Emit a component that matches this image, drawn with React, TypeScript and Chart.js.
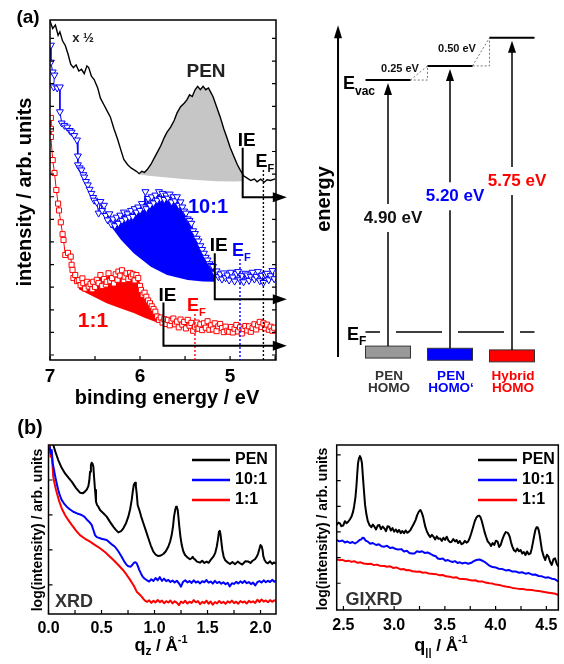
import React, { useEffect, useRef } from "react";
import { Chart, registerables } from "chart.js";

Chart.register(...registerables);

const FONT = "'Liberation Sans', Arial, Helvetica, sans-serif";
const W = 564;
const H = 664;

type Pt = [number, number];

// ---------------- (a) UPS spectra: binding energy (eV) vs intensity (arb.) ----------------
const UPS_PEN: Pt[] = [
  [7.0, 99.7], [6.97, 97.5], [6.94, 98.5], [6.91, 95.5], [6.89, 96.5], [6.86, 93.8], [6.83, 92.5], [6.8, 90],
  [6.77, 87], [6.74, 86], [6.71, 86.8], [6.68, 85], [6.65, 85.5], [6.62, 84.2], [6.59, 86.5], [6.57, 86],
  [6.54, 83.5], [6.51, 82.5], [6.47, 80], [6.44, 77], [6.4, 75], [6.36, 73], [6.33, 71.5], [6.29, 68],
  [6.25, 65], [6.21, 61.5], [6.18, 59], [6.14, 57.5], [6.1, 56.5], [6.07, 56], [6.04, 55.5], [6.01, 54.8],
  [5.98, 55.5], [5.95, 55.2], [5.92, 56], [5.88, 57.5], [5.84, 59.5], [5.81, 61], [5.77, 63], [5.73, 65.5],
  [5.7, 67], [5.66, 68.5], [5.62, 70.5], [5.59, 72.6], [5.55, 74.5], [5.51, 75.5], [5.48, 76.5], [5.45, 78],
  [5.42, 77.5], [5.39, 79.4], [5.36, 80.5], [5.33, 79.5], [5.3, 80.5], [5.27, 79.5], [5.24, 80], [5.21, 78.5],
  [5.19, 77.5], [5.15, 74.5], [5.11, 71.5], [5.07, 68], [5.03, 65], [5.0, 62.6], [4.96, 60], [4.92, 57.5],
  [4.89, 56], [4.85, 54.2], [4.81, 53.5], [4.77, 52.8], [4.73, 53.2], [4.7, 52.4], [4.66, 53.2], [4.62, 52.3],
  [4.59, 53], [4.55, 52.8], [4.5, 53.3],
];
const UPS_PEN_BG: Pt[] = [
  [6.02, 54.6], [5.88, 54.1], [5.7, 53.7], [5.52, 53.2], [5.33, 52.9], [5.15, 52.6], [4.96, 52.5], [4.85, 52.6],
];
const UPS_BLUE: Pt[] = [
  [6.99, 92.6], [6.99, 87.6], [6.97, 84.7], [6.95, 83.8], [6.96, 80.3], [6.92, 80], [6.89, 80.3], [6.89, 73],
  [6.87, 69.7], [6.84, 69], [6.81, 68.5], [6.78, 67.5], [6.76, 67], [6.73, 66], [6.7, 64.7], [6.69, 60],
  [6.69, 57.4], [6.67, 56.5], [6.65, 55.9], [6.63, 54.5], [6.62, 53.8], [6.6, 52.5], [6.58, 51.5], [6.56, 50.2],
  [6.54, 49], [6.52, 47.8], [6.51, 47], [6.48, 46.4], [6.46, 43.2], [6.44, 46.6], [6.42, 44], [6.4, 45.5],
  [6.38, 42.5], [6.36, 41.2], [6.34, 43], [6.32, 40], [6.3, 41.5], [6.28, 39.5], [6.26, 42], [6.24, 40.2],
  [6.22, 42.6], [6.2, 41], [6.18, 43.5], [6.16, 41.5], [6.14, 43], [6.12, 42], [6.1, 44], [6.08, 42.2],
  [6.06, 44.5], [6.04, 43.5], [6.02, 45], [6.0, 44], [5.98, 46], [5.96, 45], [5.94, 49.5], [5.93, 44.5],
  [5.91, 47.5], [5.89, 45.5], [5.87, 48], [5.85, 46.2], [5.83, 48.5], [5.81, 47], [5.79, 49.5], [5.77, 47.5],
  [5.75, 49], [5.73, 47.2], [5.71, 48.5], [5.69, 47.6], [5.67, 48.8], [5.65, 46.5], [5.63, 48], [5.61, 46.8],
  [5.59, 48], [5.57, 45.5], [5.55, 46.5], [5.53, 45], [5.51, 43.8], [5.49, 43.2], [5.47, 41.5], [5.45, 41],
  [5.43, 40.2], [5.41, 38], [5.39, 37.2], [5.37, 35.8], [5.35, 35], [5.33, 33.6], [5.31, 32.5], [5.29, 31.4],
  [5.27, 30.2], [5.25, 29.4], [5.23, 28.3], [5.21, 27.8], [5.19, 27.5], [5.17, 25.5], [5.15, 26.2], [5.13, 24.5],
  [5.11, 25.3], [5.09, 23.8], [5.07, 25.6], [5.05, 24.2], [5.03, 25], [5.01, 23.5], [4.99, 25.8], [4.97, 24.4],
  [4.95, 23.2], [4.93, 25.4], [4.91, 26], [4.89, 23.6], [4.87, 24.8], [4.85, 23], [4.83, 25.5], [4.81, 25],
  [4.79, 23.4], [4.77, 24.6], [4.75, 25.8], [4.73, 23.8], [4.71, 24.6], [4.69, 26], [4.67, 23.3], [4.65, 24.9],
  [4.63, 22.8], [4.61, 25.2], [4.59, 25.5], [4.57, 23.6], [4.55, 24.8], [4.53, 26.3], [4.51, 23.9],
];
const UPS_BLUE_BG: Pt[] = [
  [6.32, 39.2], [6.21, 35.3], [6.07, 31.4], [5.88, 27.4], [5.7, 25.0], [5.47, 23.5], [5.3, 23.1], [5.16, 23.0],
];
const UPS_RED: Pt[] = [
  [6.99, 71.2], [6.99, 68], [6.99, 65.6], [6.97, 58.8], [6.95, 55], [6.93, 50], [6.91, 46], [6.9, 44],
  [6.88, 40.5], [6.86, 37], [6.85, 35.3], [6.83, 30.9], [6.8, 31.5], [6.77, 30.4], [6.76, 28], [6.75, 26.5],
  [6.74, 24.1], [6.72, 25], [6.7, 23.2], [6.68, 23.5], [6.66, 22], [6.64, 24], [6.63, 22.6], [6.61, 21],
  [6.59, 23], [6.57, 21.6], [6.55, 22.4], [6.53, 20.8], [6.52, 23], [6.5, 21.5], [6.48, 23.6], [6.46, 22.6],
  [6.44, 25], [6.42, 21.8], [6.4, 23.8], [6.38, 22.2], [6.37, 23], [6.35, 25.5], [6.33, 23.2], [6.31, 24.1],
  [6.29, 22.5], [6.27, 25.2], [6.25, 23.6], [6.24, 26], [6.22, 24.8], [6.2, 26.4], [6.18, 23.5], [6.17, 24.5],
  [6.15, 25.5], [6.13, 23.8], [6.11, 25.6], [6.1, 24.5], [6.08, 25.2], [6.06, 23.4], [6.04, 25], [6.02, 24.1],
  [6.0, 21.8], [5.99, 20.6], [5.97, 19.2], [5.95, 19.8], [5.93, 18.6], [5.91, 17.5], [5.89, 16.7], [5.87, 15.8],
  [5.85, 15], [5.83, 14.2], [5.81, 12.8], [5.79, 11.8], [5.77, 12.5], [5.75, 11], [5.73, 12], [5.71, 10.6],
  [5.69, 11.8], [5.67, 10.2], [5.65, 11.5], [5.63, 12.2], [5.61, 10.5], [5.59, 11.3], [5.57, 9.6], [5.55, 11.9],
  [5.53, 10.4], [5.51, 11.2], [5.49, 9.3], [5.47, 11.8], [5.45, 10.1], [5.43, 10.9], [5.41, 8.6], [5.39, 9.8],
  [5.37, 11], [5.35, 9.2], [5.33, 10.5], [5.31, 8.8], [5.29, 10.8], [5.27, 9.5], [5.25, 11.4], [5.23, 8.9],
  [5.21, 10.2], [5.19, 9], [5.17, 10.8], [5.15, 8.5], [5.13, 9.9], [5.11, 10.6], [5.09, 9.4], [5.07, 8.2],
  [5.05, 9.8], [5.03, 8.6], [5.01, 8.3], [4.99, 9.7], [4.97, 8.1], [4.95, 9.2], [4.93, 10.3], [4.91, 8.4],
  [4.89, 9.6], [4.87, 7.8], [4.85, 9.1], [4.83, 10], [4.81, 8.7], [4.79, 9.9], [4.77, 8.3], [4.75, 9.4],
  [4.73, 10.5], [4.71, 9], [4.69, 10.2], [4.67, 11.2], [4.65, 9.7], [4.63, 10.8], [4.61, 9.3], [4.59, 10.4],
  [4.57, 8.9], [4.55, 9.8], [4.53, 8.6], [4.51, 9.5],
];
const UPS_RED_BG: Pt[] = [
  [6.68, 20.8], [6.52, 18.7], [6.37, 16.7], [6.22, 15.2], [6.07, 13.8], [5.95, 12.4], [5.84, 11.3], [5.8, 11.0],
];
const UPS_X_LABELS = [7, 6, 5];
const UPS_X_TICKS = [7, 6.5, 6, 5.5, 5, 4.5];
// ionisation-energy onsets and Fermi edges marked in the spectra
const UPS_IE_E = [4.86, 5.17, 5.74];
const UPS_IE_TOP = [62.4, 31.4, 16.9];
const UPS_IE_ARROW = [47.9, 17.9, 4.2];
const UPS_ARROW_TIP_E = 4.37;
const UPS_EF_E = [4.63, 4.89, 5.39];
const UPS_EF_TOP = [55.9, 29.7, 13.5];
const UPS_COLORS = ["#000000", "#0000ff", "#ff0000"];

// ---------------- (a) energy diagram ----------------
const DIAG_COLS = [1, 2, 3];
const DIAG_IE = [4.9, 5.2, 5.75];
const DIAG_HOMO = [-0.26, -0.3, -0.33];
const DIAG_IE_LABELS = ["4.90 eV", "5.20 eV", "5.75 eV"];
const DIAG_LABEL_EV = [2.1, 2.5, 2.78];
const DIAG_TEXT_COLORS = ["#111111", "#0000ff", "#ff0000"];
const DIAG_BOX_COLORS = ["#999999", "#0000ff", "#ff0000"];
const DIAG_HOMO_LABELS = [["PEN", "HOMO"], ["PEN", "HOMO‘"], ["Hybrid", "HOMO"]];
const DIAG_HOMO_LABEL_COLORS = ["#333333", "#0000ff", "#ff0000"];
const DIAG_STEP_LABELS = ["0.25 eV", "0.50 eV"];

// ---------------- (b) XRD: q_z (1/Å) vs log intensity (arb.) ----------------
const XRD_PEN: Pt[] = [
  [0.045, 100], [0.07, 95], [0.092, 91.1], [0.12, 87], [0.156, 83.2], [0.19, 80.5], [0.219, 78.3], [0.26, 74.5],
  [0.297, 71.8], [0.325, 71.5], [0.344, 72.4], [0.362, 73.8], [0.376, 75.7], [0.385, 79], [0.392, 84.2], [0.4, 88],
  [0.407, 89.5], [0.415, 89], [0.423, 87.2], [0.431, 80], [0.439, 73.4], [0.448, 66.5], [0.458, 64.5], [0.47, 63.5],
  [0.486, 61.5], [0.52, 59.5], [0.549, 57.6], [0.58, 54.5], [0.611, 51.7], [0.635, 49.8], [0.659, 48.3], [0.685, 49],
  [0.706, 50.7], [0.73, 53.5], [0.753, 57.6], [0.77, 62], [0.785, 67.5], [0.795, 72.5], [0.805, 76.5], [0.816, 77.7],
  [0.824, 75.5], [0.832, 71.4], [0.841, 64.5], [0.857, 61.5], [0.875, 57.5], [0.895, 53.7], [0.92, 49], [0.942, 44.8],
  [0.965, 40.5], [0.989, 36.9], [1.01, 35.2], [1.036, 34.3], [1.06, 34.6], [1.083, 35.5], [1.105, 37], [1.13, 39.8],
  [1.148, 43], [1.162, 46.7], [1.175, 52], [1.184, 57.6], [1.195, 61.5], [1.203, 63.5], [1.211, 63.2], [1.219, 61.5],
  [1.227, 56.5], [1.234, 51.7], [1.245, 45.5], [1.257, 40.8], [1.272, 37], [1.288, 34.9], [1.31, 33.5], [1.335, 32.4],
  [1.35, 33], [1.36, 33.9], [1.37, 32.8], [1.38, 32.4], [1.4, 31], [1.429, 30.4], [1.45, 31.5], [1.47, 30.2],
  [1.492, 31], [1.51, 30.3], [1.53, 32], [1.555, 33.9], [1.572, 36], [1.587, 39.8], [1.598, 44], [1.608, 48.7],
  [1.616, 49.2], [1.623, 47], [1.632, 42], [1.64, 37.9], [1.652, 34], [1.665, 32], [1.69, 30.5], [1.712, 29.6],
  [1.735, 30.8], [1.76, 29.5], [1.785, 31], [1.807, 30], [1.83, 29.3], [1.855, 31.2], [1.885, 31], [1.905, 30.2],
  [1.925, 31.5], [1.948, 32.4], [1.965, 34], [1.978, 35.9], [1.989, 38.5], [2.0, 40.8], [2.011, 40], [2.019, 37.9],
  [2.027, 34], [2.038, 32], [2.052, 30.6], [2.07, 30], [2.09, 31.2], [2.11, 29.6], [2.125, 30.5], [2.145, 29.8],
];
const XRD_BLUE: Pt[] = [
  [0.012, 99], [0.02, 95], [0.03, 97], [0.04, 89], [0.05, 86], [0.061, 82.2], [0.075, 78], [0.092, 73.4],
  [0.108, 70], [0.124, 67.5], [0.145, 65.5], [0.172, 63.5], [0.2, 62], [0.234, 60.5], [0.27, 59.5], [0.313, 58.6],
  [0.34, 57.5], [0.366, 55.6], [0.385, 54.5], [0.407, 52.7], [0.422, 50], [0.439, 46.7], [0.455, 45.5], [0.47, 45.2],
  [0.5, 44.5], [0.549, 43.8], [0.59, 41.5], [0.627, 39.8], [0.66, 37], [0.69, 33.9], [0.715, 31], [0.738, 29],
  [0.755, 28.2], [0.775, 28], [0.79, 29], [0.807, 30.4], [0.82, 30.6], [0.832, 30], [0.845, 28], [0.857, 26],
  [0.872, 24], [0.888, 22.1], [0.905, 21], [0.926, 20.1], [0.95, 19.2], [0.97, 20.6], [0.99, 19.5], [1.01, 21.3],
  [1.03, 20], [1.05, 21.8], [1.07, 19.6], [1.09, 20.9], [1.11, 19.4], [1.13, 20.2], [1.15, 18.9], [1.17, 19.8],
  [1.19, 18.6], [1.21, 19.7], [1.23, 18.2], [1.25, 16.2], [1.27, 19.1], [1.29, 20], [1.31, 18.7], [1.33, 19.5],
  [1.35, 18.4], [1.37, 19.9], [1.39, 18.6], [1.41, 19.3], [1.43, 18.1], [1.45, 19.4], [1.47, 18.8], [1.49, 20.1],
  [1.51, 18.5], [1.53, 19.2], [1.55, 18], [1.57, 19.6], [1.59, 18.3], [1.61, 19.1], [1.63, 17.9], [1.65, 18.8],
  [1.67, 17.6], [1.69, 18.5], [1.71, 16.3], [1.73, 18.2], [1.75, 17.8], [1.77, 19], [1.79, 18.1], [1.81, 19.3],
  [1.83, 18.4], [1.85, 19.6], [1.87, 18.2], [1.89, 18.9], [1.91, 17.7], [1.93, 18.6], [1.95, 16.9], [1.97, 18.8],
  [1.99, 19.5], [2.01, 18.6], [2.03, 19.9], [2.05, 18.8], [2.07, 19.7], [2.09, 18.9], [2.11, 20.2], [2.13, 19.1],
  [2.145, 19.8],
];
const XRD_RED: Pt[] = [
  [0.012, 100], [0.02, 93], [0.03, 96], [0.045, 81.2], [0.058, 77], [0.071, 73.4], [0.086, 70], [0.102, 66.5],
  [0.128, 62], [0.156, 58.6], [0.187, 55.5], [0.219, 52.7], [0.258, 49.5], [0.297, 46.7], [0.345, 44.5], [0.392, 42.8],
  [0.44, 40.8], [0.486, 38.9], [0.535, 36.5], [0.58, 33.9], [0.62, 31.5], [0.659, 29], [0.7, 26.2], [0.738, 23.1],
  [0.77, 20.2], [0.8, 17.2], [0.815, 15.5], [0.832, 13.2], [0.855, 11.8], [0.879, 10.3], [0.895, 9], [0.91, 7.9],
  [0.93, 7.2], [0.95, 8.1], [0.97, 6.6], [0.99, 7.8], [1.01, 6.9], [1.03, 8.3], [1.05, 7], [1.07, 7.9],
  [1.09, 6.4], [1.11, 7.6], [1.13, 6.8], [1.15, 8], [1.17, 6.3], [1.19, 7.5], [1.21, 6.7], [1.23, 5.2],
  [1.25, 7.4], [1.27, 6.5], [1.29, 7.8], [1.31, 6.2], [1.33, 7.3], [1.35, 6.6], [1.37, 8.2], [1.39, 6.9],
  [1.41, 7.6], [1.43, 5.8], [1.45, 7.2], [1.47, 6.4], [1.49, 7.9], [1.51, 6.1], [1.53, 7.4], [1.55, 5.5],
  [1.57, 7.1], [1.59, 6.3], [1.61, 7.7], [1.63, 6.5], [1.65, 7.2], [1.67, 6], [1.69, 7.5], [1.71, 6.7],
  [1.73, 7.9], [1.75, 6.4], [1.77, 7.3], [1.79, 6.1], [1.81, 7.6], [1.83, 6.8], [1.85, 7.4], [1.87, 6.2],
  [1.89, 7.8], [1.91, 6.9], [1.93, 7.5], [1.95, 6.6], [1.97, 8.4], [1.99, 7.1], [2.01, 8.6], [2.03, 7.3],
  [2.05, 8], [2.07, 7], [2.09, 8.2], [2.11, 7.2], [2.13, 8.1], [2.145, 7.6],
];
const XRD_X_LABELS = [0, 0.5, 1, 1.5, 2];
const XRD_X_TICKS = [0, 0.25, 0.5, 0.75, 1, 1.25, 1.5, 1.75, 2];
const XRD_Y_TICKS = [17.2, 37.9, 58.6, 79.3];

// ---------------- (b) GIXRD: q_|| (1/Å) vs log intensity (arb.) ----------------
const GIX_PEN: Pt[] = [
  [2.434, 51.5], [2.45, 53], [2.466, 52.5], [2.48, 50.8], [2.498, 51.2], [2.515, 53.8], [2.53, 52.6], [2.547, 53.5],
  [2.565, 55], [2.58, 56.6], [2.595, 59.5], [2.605, 62.6], [2.618, 68], [2.628, 74.7], [2.637, 83], [2.644, 88.9],
  [2.655, 92.5], [2.663, 93.3], [2.673, 92], [2.683, 88.9], [2.692, 81], [2.702, 72.7], [2.713, 64], [2.725, 58.6],
  [2.74, 54], [2.757, 51.5], [2.775, 50.2], [2.79, 51.8], [2.806, 50.5], [2.822, 48.8], [2.838, 51.2], [2.854, 51.5],
  [2.87, 49], [2.887, 50.6], [2.903, 49.5], [2.92, 47.8], [2.935, 50.8], [2.951, 50.5], [2.968, 48.2], [2.984, 49.6],
  [3.0, 47.5], [3.017, 48.8], [3.033, 47.2], [3.049, 48.5], [3.065, 46.6], [3.081, 47.9], [3.097, 46.5], [3.113, 48.2],
  [3.13, 46.8], [3.146, 47.5], [3.162, 48.6], [3.178, 50.5], [3.195, 52.4], [3.211, 54.5], [3.227, 57.5], [3.243, 59.6],
  [3.259, 60.6], [3.272, 59], [3.285, 56.6], [3.296, 53.5], [3.307, 50.5], [3.323, 47.6], [3.34, 45.5], [3.356, 44.2],
  [3.372, 45.6], [3.388, 44.4], [3.405, 42.8], [3.42, 44.6], [3.437, 43.1], [3.453, 43.4], [3.47, 41.9], [3.486, 43.8],
  [3.502, 42.5], [3.518, 44.4], [3.534, 42.2], [3.55, 41.1], [3.566, 41.4], [3.583, 43], [3.6, 41.5], [3.615, 42.4],
  [3.63, 40.6], [3.647, 41.8], [3.664, 39.9], [3.68, 40.4], [3.697, 41.9], [3.713, 40.8], [3.728, 41.4], [3.744, 43.5],
  [3.76, 46.5], [3.777, 50], [3.793, 53.5], [3.81, 56], [3.825, 57], [3.838, 57.2], [3.848, 56.6], [3.861, 54.5],
  [3.874, 51.5], [3.89, 47.5], [3.906, 44.4], [3.922, 41.6], [3.939, 40.4], [3.955, 38.8], [3.971, 40.6], [3.987, 39.4],
  [4.003, 42], [4.02, 41.4], [4.035, 38.2], [4.05, 39.4], [4.065, 42.5], [4.084, 45.5], [4.1, 47.2], [4.117, 46.9],
  [4.128, 46], [4.139, 44.4], [4.152, 41], [4.165, 38.4], [4.181, 36.2], [4.197, 35.4], [4.213, 37.2], [4.23, 35.6],
  [4.246, 36.4], [4.262, 34.2], [4.278, 35.1], [4.294, 33.3], [4.31, 35.5], [4.326, 33.8], [4.343, 34.3], [4.355, 37],
  [4.366, 40.4], [4.38, 45], [4.392, 48.5], [4.403, 50.1], [4.414, 50.1], [4.424, 48.5], [4.434, 45.5], [4.445, 40.8],
  [4.456, 36.4], [4.472, 32.8], [4.489, 30.3], [4.505, 33.5], [4.521, 32.3], [4.537, 29.2], [4.553, 27.3], [4.57, 30.8],
  [4.586, 31.3], [4.602, 28], [4.618, 26.3],
];
const GIX_BLUE: Pt[] = [
  [2.434, 42.4], [2.46, 41.6], [2.49, 42.1], [2.515, 40.9], [2.54, 41.5], [2.565, 40.6], [2.59, 41.2], [2.615, 40.3],
  [2.64, 41.4], [2.66, 42.4], [2.677, 42.8], [2.69, 43.8], [2.702, 43.6], [2.72, 42], [2.741, 41.4], [2.765, 40.2],
  [2.79, 40.6], [2.822, 39.4], [2.85, 39.8], [2.875, 38.6], [2.903, 38.4], [2.93, 38.9], [2.96, 37.6], [2.985, 37.9],
  [3.01, 37.1], [3.04, 36.6], [3.07, 36.9], [3.097, 35.4], [3.125, 35.9], [3.15, 34.6], [3.175, 34.2], [3.2, 34.3],
  [3.225, 35.6], [3.25, 35.2], [3.275, 35.6], [3.3, 34.6], [3.33, 34.9], [3.356, 34.1], [3.38, 33.2], [3.41, 32.6],
  [3.43, 31.2], [3.453, 30.9], [3.48, 31.2], [3.505, 29.9], [3.53, 30.3], [3.55, 29.6], [3.575, 29.1], [3.6, 29.6],
  [3.625, 28.5], [3.647, 28.9], [3.67, 28.2], [3.7, 28.7], [3.73, 28], [3.76, 28.6], [3.785, 29.6], [3.81, 30.3],
  [3.842, 30.6], [3.865, 30], [3.89, 29.2], [3.915, 28], [3.94, 26.8], [3.971, 26], [4.0, 25.8], [4.03, 25],
  [4.068, 24.8], [4.1, 24], [4.13, 24.3], [4.165, 23.3], [4.197, 23.4], [4.23, 22.6], [4.26, 22.9], [4.295, 22],
  [4.327, 22.4], [4.36, 21.4], [4.39, 21.5], [4.425, 20.6], [4.456, 20.4], [4.49, 19.6], [4.52, 19.8], [4.553, 19],
  [4.585, 18.6], [4.618, 17.4],
];
const GIX_RED: Pt[] = [
  [2.434, 30.7], [2.46, 30.2], [2.49, 30.4], [2.52, 29.6], [2.55, 29.9], [2.58, 29.2], [2.61, 29.5], [2.64, 28.6],
  [2.67, 28.9], [2.7, 28.2], [2.741, 27.9], [2.77, 28.1], [2.8, 27.2], [2.83, 27.5], [2.86, 26.8], [2.903, 26.7],
  [2.93, 26.2], [2.96, 26.5], [2.99, 25.5], [3.02, 25.8], [3.065, 24.6], [3.09, 24.9], [3.12, 24.1], [3.15, 24.2],
  [3.18, 23.5], [3.226, 23.2], [3.25, 23.4], [3.28, 22.6], [3.31, 22.8], [3.34, 22.1], [3.388, 21.8], [3.42, 21.6],
  [3.45, 21], [3.48, 21.2], [3.51, 20.4], [3.55, 20.2], [3.58, 19.6], [3.61, 19.9], [3.64, 19], [3.68, 18.8],
  [3.712, 18.6], [3.74, 18.2], [3.77, 17.9], [3.8, 18], [3.83, 17.3], [3.874, 17.2], [3.9, 16.6], [3.939, 16.2],
  [3.97, 16], [4.0, 15.4], [4.036, 15.2], [4.07, 14.6], [4.1, 14.2], [4.13, 14], [4.165, 13.4], [4.197, 13.1],
  [4.23, 12.8], [4.27, 12.7], [4.31, 12.2], [4.359, 12.1], [4.4, 11.6], [4.44, 11.3], [4.48, 10.9], [4.521, 10.5],
  [4.56, 10.1], [4.59, 9.8], [4.618, 9.1],
];
const GIX_X_LABELS = [2.5, 3, 3.5, 4, 4.5];
const GIX_X_TICKS = [2.5, 2.75, 3, 3.25, 3.5, 3.75, 4, 4.25, 4.5];
const GIX_Y_TICKS = [16.2, 31.7, 47.3, 62.8, 78.4, 94.0];

const LEGEND_NAMES = ["PEN", "10:1", "1:1"];

// ---------------- helpers ----------------
const xy = (pts: Pt[]) => pts.map(([x, y]) => ({ x, y }));
const between = (pts: Pt[], lo: number, hi: number) =>
  xy(pts.filter(([x]) => x >= lo - 1e-9 && x <= hi + 1e-9));
const spanOf = (pts: Pt[]) => {
  const xs = pts.map((p) => p[0]);
  return [Math.min(...xs), Math.max(...xs)];
};

function txt(ctx: any, s: string, x: number, y: number, size: number, color: string, align = "center", base = "middle") {
  ctx.font = `bold ${size}px ${FONT}`;
  ctx.fillStyle = color;
  ctx.textAlign = align;
  ctx.textBaseline = base;
  ctx.fillText(s, x, y);
}
function vtxt(ctx: any, s: string, x: number, y: number, size: number, color: string) {
  ctx.save();
  ctx.translate(x, y);
  ctx.rotate(-Math.PI / 2);
  txt(ctx, s, 0, 0, size, color);
  ctx.restore();
}
type Part = { t: string; s: number; dy?: number };
function rich(ctx: any, parts: Part[], x: number, base: number, color: string, centered: boolean) {
  const widths = parts.map((p) => {
    ctx.font = `bold ${p.s}px ${FONT}`;
    return ctx.measureText(p.t).width;
  });
  const total = widths.reduce((a, b) => a + b, 0);
  let cx = centered ? x - total / 2 : x;
  ctx.fillStyle = color;
  ctx.textAlign = "left";
  ctx.textBaseline = "alphabetic";
  parts.forEach((p, i) => {
    ctx.font = `bold ${p.s}px ${FONT}`;
    ctx.fillText(p.t, cx, base + (p.dy || 0));
    cx += widths[i];
  });
}

function framePlugin(xTicks: number[], yTicks: number[], both: boolean) {
  return {
    id: "frame",
    afterDatasetsDraw(chart: any) {
      const { ctx, chartArea: a, scales } = chart;
      ctx.save();
      ctx.strokeStyle = "#000";
      ctx.lineWidth = 1.5;
      ctx.setLineDash([]);
      ctx.strokeRect(a.left, a.top, a.right - a.left, a.bottom - a.top);
      ctx.lineWidth = 1.2;
      ctx.beginPath();
      for (const v of xTicks) {
        const p = scales.x.getPixelForValue(v);
        ctx.moveTo(p, a.bottom);
        ctx.lineTo(p, a.bottom - 4);
      }
      for (const v of yTicks) {
        const p = scales.y.getPixelForValue(v);
        ctx.moveTo(a.left, p);
        ctx.lineTo(a.left + 4, p);
        if (both) {
          ctx.moveTo(a.right, p);
          ctx.lineTo(a.right - 4, p);
        }
      }
      ctx.stroke();
      ctx.restore();
    },
  };
}

function xAxis(min: number, max: number, labels: number[], size: number, pad: number, fmt: (v: number) => string, reverse = false) {
  return {
    type: "linear",
    min,
    max,
    reverse,
    position: "bottom",
    afterBuildTicks: (s: any) => {
      s.ticks = labels.map((v) => ({ value: v }));
    },
    afterFit: (s: any) => {
      s.height = 30;
    },
    grid: { display: false, drawTicks: false, tickLength: 0 },
    border: { display: false },
    ticks: {
      color: "#000",
      font: { family: FONT, size, weight: "bold" },
      padding: pad,
      autoSkip: false,
      maxRotation: 0,
      minRotation: 0,
      callback: (v: any) => fmt(Number(v)),
    },
  };
}

const baseOptions = (padding: any, scales: any) => ({
  responsive: false,
  maintainAspectRatio: false,
  animation: false,
  devicePixelRatio: 1,
  events: [],
  layout: { padding },
  plugins: { legend: { display: false }, tooltip: { enabled: false } },
  scales,
});

// ---------------- (a) UPS chart ----------------
function upsConfig() {
  const [pLo, pHi] = spanOf(UPS_PEN_BG);
  const [bLo, bHi] = spanOf(UPS_BLUE_BG);
  const [rLo, rHi] = spanOf(UPS_RED_BG);
  const hidden = { showLine: true, borderColor: "rgba(0,0,0,0)", borderWidth: 1, pointRadius: 0, fill: false };
  const decor = {
    id: "upsDecor",
    afterDraw(chart: any) {
      const { ctx, chartArea: a, scales } = chart;
      const x = scales.x;
      const y = scales.y;
      ctx.save();
      UPS_IE_E.forEach((e, i) => {
        const px = x.getPixelForValue(e);
        const top = y.getPixelForValue(UPS_IE_TOP[i]);
        const ay = y.getPixelForValue(UPS_IE_ARROW[i]);
        const tip = x.getPixelForValue(UPS_ARROW_TIP_E);
        // Fermi edge (dotted)
        const fx = x.getPixelForValue(UPS_EF_E[i]);
        const ft = y.getPixelForValue(UPS_EF_TOP[i]);
        ctx.strokeStyle = UPS_COLORS[i];
        ctx.lineWidth = 1.4;
        ctx.setLineDash([2, 2]);
        ctx.beginPath();
        ctx.moveTo(fx, ft);
        ctx.lineTo(fx, a.bottom);
        ctx.stroke();
        ctx.setLineDash([]);
        // IE onset + arrow
        ctx.strokeStyle = "#000";
        ctx.lineWidth = 2;
        ctx.beginPath();
        ctx.moveTo(px, top);
        ctx.lineTo(px, ay);
        ctx.lineTo(tip - 10, ay);
        ctx.stroke();
        ctx.fillStyle = "#000";
        ctx.beginPath();
        ctx.moveTo(tip, ay);
        ctx.lineTo(tip - 14, ay - 5);
        ctx.lineTo(tip - 14, ay + 5);
        ctx.closePath();
        ctx.fill();
        txt(ctx, "IE", px - 5, top - 2, 19, "#000", "left", "alphabetic");
        rich(ctx, [{ t: "E", s: 18 }, { t: "F", s: 11, dy: 5 }], fx - 8, ft - 3, UPS_COLORS[i], false);
      });
      txt(ctx, "PEN", 206, 72, 19, "#222");
      txt(ctx, "x ½", 83, 38, 13, "#222");
      txt(ctx, "10:1", 208, 207, 20, "#0000ff");
      txt(ctx, "1:1", 93, 321, 21, "#ff0000");
      txt(ctx, "(a)", 28, 18, 19, "#000");
      vtxt(ctx, "intensity / arb. units", 25, 192, 20, "#000");
      txt(ctx, "binding energy / eV", 167, 404, 20, "#000", "center", "alphabetic");
      ctx.restore();
    },
  };
  return {
    type: "scatter",
    data: {
      datasets: [
        { data: xy(UPS_PEN), showLine: true, borderColor: "#000", borderWidth: 1.4, pointRadius: 0, fill: false },
        {
          data: xy(UPS_BLUE), showLine: true, borderColor: "#0000ff", borderWidth: 1, fill: false,
          pointStyle: "triangle", pointRotation: 180, pointRadius: 4, pointBorderWidth: 1,
          pointBorderColor: "#0000ff", pointBackgroundColor: "#ffffff",
        },
        {
          data: xy(UPS_RED), showLine: true, borderColor: "#ff0000", borderWidth: 1, fill: false,
          pointStyle: "rect", pointRadius: 3.6, pointBorderWidth: 1,
          pointBorderColor: "#ff0000", pointBackgroundColor: "#ffffff",
        },
        { ...hidden, data: between(UPS_PEN, pLo, pHi), fill: "+1", backgroundColor: "#c6c6c6" },
        { ...hidden, data: xy(UPS_PEN_BG) },
        { ...hidden, data: between(UPS_BLUE, bLo, bHi), fill: "+1", backgroundColor: "#0000ff" },
        { ...hidden, data: xy(UPS_BLUE_BG) },
        { ...hidden, data: between(UPS_RED, rLo, rHi), fill: "+1", backgroundColor: "#ff0000" },
        { ...hidden, data: xy(UPS_RED_BG) },
      ],
    },
    options: baseOptions(
      { left: 50, right: W - 276, top: 20, bottom: H - 360 - 30 },
      {
        x: xAxis(4.49, 7, UPS_X_LABELS, 19, 5, (v) => String(v), true),
        y: { type: "linear", min: 0, max: 100, display: false },
      }
    ),
    plugins: [
      framePlugin(UPS_X_TICKS, Array.from({ length: 15 }, (_, k) => 1.47 + 6.65 * k), true),
      decor,
    ],
  };
}

// ---------------- (a) energy-level diagram ----------------
function diagramConfig() {
  const HALF = 0.363;
  const evac = DIAG_HOMO.map((h, i) => h + DIAG_IE[i]);
  const levels = DIAG_COLS.map((c, i) => ({
    data: [{ x: c - HALF, y: evac[i] }, { x: c + HALF, y: evac[i] }],
    showLine: true, borderColor: "#000", borderWidth: 2, pointRadius: 0, clip: false,
  }));
  const steps = DIAG_COLS.slice(0, -1).map((c, i) => ({
    data: [
      { x: c + HALF, y: evac[i] },
      { x: DIAG_COLS[i + 1] - HALF, y: evac[i + 1] },
      { x: DIAG_COLS[i + 1] - HALF, y: evac[i] },
      { x: c + HALF, y: evac[i] },
    ],
    showLine: true, borderColor: "#777", borderWidth: 1, borderDash: [2, 2], pointRadius: 0, clip: false,
  }));
  const decor = {
    id: "diagDecor",
    afterDraw(chart: any) {
      const { ctx, scales } = chart;
      const X = (u: number) => scales.x.getPixelForValue(u);
      const Y = (v: number) => scales.y.getPixelForValue(v);
      ctx.save();
      // energy axis
      const ax = X(0.194);
      ctx.strokeStyle = "#000";
      ctx.fillStyle = "#000";
      ctx.lineWidth = 2;
      ctx.beginPath();
      ctx.moveTo(ax, Y(-0.46));
      ctx.lineTo(ax, Y(5.65) + 10);
      ctx.stroke();
      ctx.beginPath();
      ctx.moveTo(ax, Y(5.65));
      ctx.lineTo(ax - 4, Y(5.65) + 13);
      ctx.lineTo(ax + 4, Y(5.65) + 13);
      ctx.closePath();
      ctx.fill();
      vtxt(ctx, "energy", 324, 199, 20, "#000");
      // Fermi level (dashed, broken at arrows)
      ctx.lineWidth = 1.6;
      ctx.strokeStyle = "#000";
      const efy = Y(0);
      let start = X(DIAG_COLS[0] - HALF);
      ctx.beginPath();
      DIAG_COLS.forEach((c) => {
        ctx.moveTo(start, efy);
        ctx.lineTo(X(c) - 8, efy);
        start = X(c) + 8;
      });
      ctx.moveTo(start, efy);
      ctx.lineTo(X(DIAG_COLS[DIAG_COLS.length - 1] + HALF), efy);
      ctx.stroke();
      rich(ctx, [{ t: "E", s: 18 }, { t: "F", s: 12, dy: 5 }], 347, 340, "#000", false);
      rich(ctx, [{ t: "E", s: 18 }, { t: "vac", s: 12, dy: 6 }], 343, 89, "#000", false);
      // HOMO boxes, IE arrows, labels
      DIAG_COLS.forEach((c, i) => {
        const l = X(c - HALF);
        const r = X(c + HALF);
        const t = Y(DIAG_HOMO[i]);
        const b = Y(DIAG_HOMO[i] - 0.22);
        ctx.fillStyle = DIAG_BOX_COLORS[i];
        ctx.fillRect(l, t, r - l, b - t);
        ctx.strokeStyle = "#333";
        ctx.lineWidth = 1;
        ctx.strokeRect(l, t, r - l, b - t);
        const px = X(c);
        const tipY = Y(evac[i]) + 3;
        const ly = Y(DIAG_LABEL_EV[i]);
        ctx.strokeStyle = "#000";
        ctx.lineWidth = 1.5;
        ctx.beginPath();
        ctx.moveTo(px, t);
        ctx.lineTo(px, ly + 14);
        ctx.moveTo(px, ly - 14);
        ctx.lineTo(px, tipY + 10);
        ctx.stroke();
        ctx.fillStyle = "#000";
        ctx.beginPath();
        ctx.moveTo(px, tipY);
        ctx.lineTo(px - 4, tipY + 12);
        ctx.lineTo(px + 4, tipY + 12);
        ctx.closePath();
        ctx.fill();
        txt(ctx, DIAG_IE_LABELS[i], px + 5, ly, 17, DIAG_TEXT_COLORS[i]);
        txt(ctx, DIAG_HOMO_LABELS[i][0], px + 1, 380, 13.5, DIAG_HOMO_LABEL_COLORS[i], "center", "alphabetic");
        txt(ctx, DIAG_HOMO_LABELS[i][1], px + 1, 392, 13.5, DIAG_HOMO_LABEL_COLORS[i], "center", "alphabetic");
      });
      txt(ctx, DIAG_STEP_LABELS[0], 400, 69, 11, "#111");
      txt(ctx, DIAG_STEP_LABELS[1], 457, 49, 11, "#111");
      ctx.restore();
    },
  };
  return {
    type: "scatter",
    data: { datasets: [...levels, ...steps] },
    options: baseOptions(
      { left: 326, right: W - 543, top: 20, bottom: H - 370 },
      {
        x: { type: "linear", min: 0, max: 3.5, display: false },
        y: { type: "linear", min: -0.7, max: 5.746, display: false },
      }
    ),
    plugins: [decor],
  };
}

// ---------------- (b) XRD / GIXRD ----------------
function diffConfig(kind: "xrd" | "gix") {
  const isX = kind === "xrd";
  const series = isX ? [XRD_PEN, XRD_BLUE, XRD_RED] : [GIX_PEN, GIX_BLUE, GIX_RED];
  const colors = ["#000000", "#0000ff", "#ff0000"];
  const decor = {
    id: "diffDecor",
    afterDraw(chart: any) {
      const { ctx } = chart;
      ctx.save();
      const lx0 = isX ? 192 : 478;
      const lx1 = isX ? 230 : 517;
      LEGEND_NAMES.forEach((n, i) => {
        const yy = 460 + 20 * i;
        ctx.strokeStyle = colors[i];
        ctx.lineWidth = 2.5;
        ctx.beginPath();
        ctx.moveTo(lx0, yy);
        ctx.lineTo(lx1, yy);
        ctx.stroke();
        txt(ctx, n, lx1 + 5, yy, 16, "#000", "left", "middle");
      });
      if (isX) {
        txt(ctx, "(b)", 30, 428, 20, "#000");
        txt(ctx, "XRD", 74, 602, 18, "#333");
        vtxt(ctx, "log(intensity) / arb. units", 38, 530, 14, "#000");
        rich(ctx, [{ t: "q", s: 18 }, { t: "z", s: 12, dy: 4 }, { t: " / Å", s: 17 }, { t: "-1", s: 11, dy: -8 }], 161, 651, "#000", true);
      } else {
        txt(ctx, "GIXRD", 374, 600, 18, "#333");
        vtxt(ctx, "log(intensity) / arb. units", 323, 529, 14, "#000");
        rich(ctx, [{ t: "q", s: 18 }, { t: "||", s: 11, dy: 5 }, { t: " / Å", s: 17 }, { t: "-1", s: 11, dy: -8 }], 441, 651, "#000", true);
      }
      ctx.restore();
    },
  };
  const fmt = (v: number) => v.toFixed(1);
  return {
    type: "scatter",
    data: {
      datasets: series.map((s, i) => ({
        data: xy(s), showLine: true, borderColor: colors[i], borderWidth: 2, pointRadius: 0, fill: false,
        borderJoinStyle: "round",
      })),
    },
    options: baseOptions(
      isX
        ? { left: 48.5, right: W - 276, top: 445, bottom: H - 614 - 30 }
        : { left: 336.7, right: W - 561.7, top: 445, bottom: H - 610 - 30 },
      {
        x: isX
          ? xAxis(0, 2.146, XRD_X_LABELS, 16, 5.4, fmt)
          : xAxis(2.434, 4.618, GIX_X_LABELS, 16, 6.4, fmt),
        y: { type: "linear", min: 0, max: 100, display: false },
      }
    ),
    plugins: [framePlugin(isX ? XRD_X_TICKS : GIX_X_TICKS, isX ? XRD_Y_TICKS : GIX_Y_TICKS, false), decor],
  };
}

export default function App() {
  const r0 = useRef<HTMLCanvasElement>(null);
  const r1 = useRef<HTMLCanvasElement>(null);
  const r2 = useRef<HTMLCanvasElement>(null);
  const r3 = useRef<HTMLCanvasElement>(null);
  const refs = [r0, r1, r2, r3];
  useEffect(() => {
    const cfgs: any[] = [upsConfig(), diagramConfig(), diffConfig("xrd"), diffConfig("gix")];
    const charts = cfgs.map((c, i) => new Chart(refs[i].current as HTMLCanvasElement, c));
    return () => charts.forEach((c) => c.destroy());
  }, []);
  return (
    <div style={{ position: "absolute", left: 0, top: 0, width: W, height: H, background: "#fff", overflow: "hidden" }}>
      {refs.map((r, i) => (
        <canvas
          key={i}
          ref={r}
          width={W}
          height={H}
          style={{ position: "absolute", left: 0, top: 0, width: W, height: H }}
        />
      ))}
    </div>
  );
}
